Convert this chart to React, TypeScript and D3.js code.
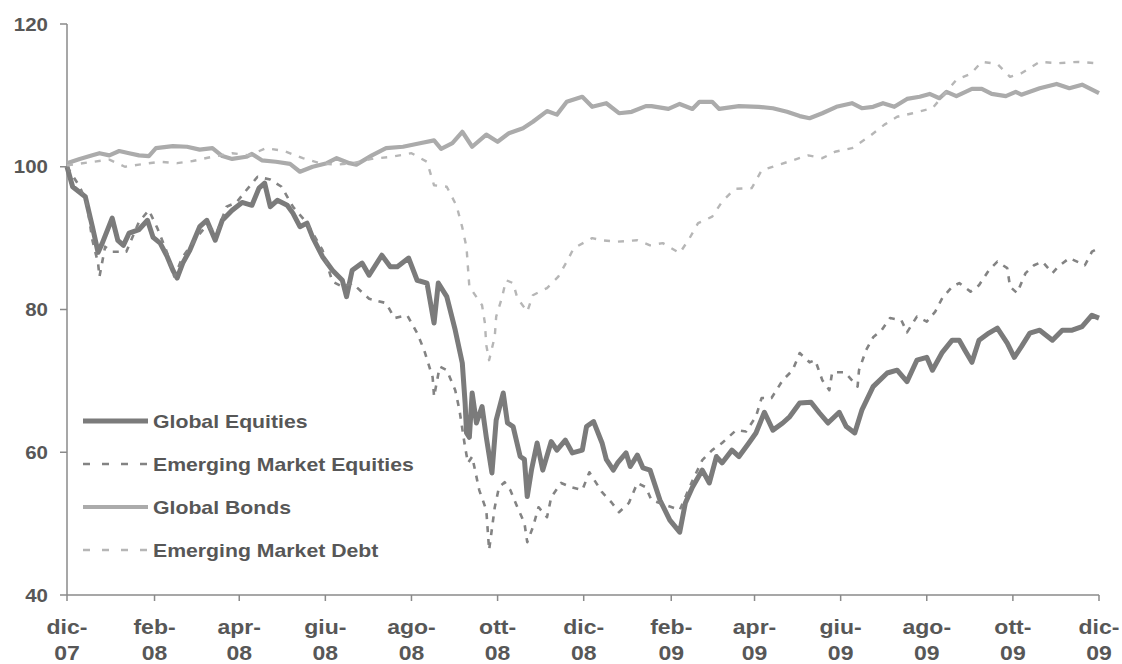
import React from "react";
import * as d3 from "d3";

// ---------- DATA ----------
const globalEquities: [string, number][] = [
  ["2007-12-01", 100.0], ["2007-12-05", 97.2], ["2007-12-14", 95.8], ["2007-12-19", 91.6],
  ["2007-12-23", 88.0], ["2007-12-26", 89.3], ["2008-01-02", 92.8], ["2008-01-06", 89.7],
  ["2008-01-10", 89.0], ["2008-01-14", 90.7], ["2008-01-21", 91.2], ["2008-01-27", 92.5],
  ["2008-01-31", 90.1], ["2008-02-05", 89.3], ["2008-02-10", 87.4], ["2008-02-14", 85.5],
  ["2008-02-17", 84.4], ["2008-02-21", 86.5], ["2008-02-26", 88.3], ["2008-03-04", 91.6],
  ["2008-03-09", 92.5], ["2008-03-15", 89.7], ["2008-03-20", 92.5], ["2008-03-27", 93.9],
  ["2008-04-03", 95.0], ["2008-04-10", 94.6], ["2008-04-15", 97.0], ["2008-04-19", 97.7],
  ["2008-04-23", 94.4], ["2008-04-28", 95.3], ["2008-05-05", 94.6], ["2008-05-09", 93.5],
  ["2008-05-14", 91.6], ["2008-05-19", 92.1], ["2008-05-23", 90.1], ["2008-05-30", 87.4],
  ["2008-06-06", 85.5], ["2008-06-13", 84.1], ["2008-06-16", 81.8], ["2008-06-20", 85.5],
  ["2008-06-27", 86.5], ["2008-07-02", 84.8], ["2008-07-11", 87.6], ["2008-07-17", 86.0],
  ["2008-07-22", 86.0], ["2008-07-30", 87.2], ["2008-08-05", 84.1], ["2008-08-12", 83.7],
  ["2008-08-17", 78.1], ["2008-08-20", 83.7], ["2008-08-26", 81.8], ["2008-09-01", 77.1],
  ["2008-09-06", 72.5], ["2008-09-08", 66.9], ["2008-09-09", 62.7], ["2008-09-11", 62.1],
  ["2008-09-13", 68.3], ["2008-09-16", 64.1], ["2008-09-20", 66.4], ["2008-09-23", 62.1],
  ["2008-09-27", 57.1], ["2008-09-30", 64.5], ["2008-10-05", 68.3], ["2008-10-08", 64.1],
  ["2008-10-12", 63.6], ["2008-10-17", 59.4], ["2008-10-20", 59.0], ["2008-10-22", 53.8],
  ["2008-10-25", 57.5], ["2008-10-29", 61.3], ["2008-11-02", 57.5], ["2008-11-08", 61.5],
  ["2008-11-12", 60.3], ["2008-11-18", 61.7], ["2008-11-23", 59.9], ["2008-11-30", 60.3],
  ["2008-12-03", 63.6], ["2008-12-08", 64.3], ["2008-12-14", 61.3], ["2008-12-17", 59.0],
  ["2008-12-22", 57.5], ["2008-12-25", 58.5], ["2008-12-31", 59.9], ["2009-01-03", 58.0],
  ["2009-01-08", 59.6], ["2009-01-12", 57.8], ["2009-01-17", 57.5], ["2009-01-24", 53.3],
  ["2009-01-31", 50.5], ["2009-02-07", 48.8], ["2009-02-11", 52.9], ["2009-02-16", 55.1],
  ["2009-02-23", 57.5], ["2009-02-28", 55.7], ["2009-03-05", 59.4], ["2009-03-09", 58.5],
  ["2009-03-16", 60.3], ["2009-03-21", 59.4], ["2009-03-28", 61.3], ["2009-04-02", 62.7],
  ["2009-04-08", 65.6], ["2009-04-14", 63.1], ["2009-04-21", 64.1], ["2009-04-26", 65.0],
  ["2009-05-03", 66.9], ["2009-05-11", 67.0], ["2009-05-17", 65.5], ["2009-05-23", 64.1],
  ["2009-05-31", 65.6], ["2009-06-05", 63.6], ["2009-06-11", 62.7], ["2009-06-16", 65.9],
  ["2009-06-24", 69.2], ["2009-07-04", 71.1], ["2009-07-11", 71.5], ["2009-07-18", 69.9],
  ["2009-07-25", 72.9], ["2009-08-01", 73.3], ["2009-08-05", 71.5], ["2009-08-12", 74.0],
  ["2009-08-19", 75.7], ["2009-08-24", 75.7], ["2009-08-28", 74.3], ["2009-09-02", 72.6],
  ["2009-09-07", 75.7], ["2009-09-14", 76.7], ["2009-09-20", 77.4], ["2009-09-27", 75.3],
  ["2009-10-02", 73.3], ["2009-10-07", 74.8], ["2009-10-13", 76.7], ["2009-10-20", 77.1],
  ["2009-10-29", 75.7], ["2009-11-05", 77.1], ["2009-11-12", 77.1], ["2009-11-19", 77.6],
  ["2009-11-26", 79.2], ["2009-12-01", 78.8],
];

const emergingEquities: [string, number][] = [
  ["2007-12-01", 100.0], ["2007-12-10", 97.2], ["2007-12-15", 94.9], ["2007-12-19", 89.7],
  ["2007-12-23", 86.5], ["2007-12-24", 84.6], ["2007-12-28", 88.8], ["2008-01-02", 88.1],
  ["2008-01-12", 88.1], ["2008-01-21", 92.3], ["2008-01-28", 93.9], ["2008-02-03", 91.4],
  ["2008-02-10", 87.9], ["2008-02-15", 84.6], ["2008-02-21", 87.4], ["2008-03-02", 90.1],
  ["2008-03-09", 91.8], ["2008-03-16", 90.7], ["2008-03-23", 94.4], ["2008-03-30", 95.0],
  ["2008-04-06", 96.7], ["2008-04-14", 98.6], ["2008-04-23", 98.2], ["2008-05-01", 97.2],
  ["2008-05-09", 94.4], ["2008-05-19", 92.1], ["2008-05-30", 88.3], ["2008-06-06", 83.9],
  ["2008-06-13", 83.2], ["2008-06-20", 83.7], ["2008-07-02", 81.5], ["2008-07-14", 80.9],
  ["2008-07-20", 78.8], ["2008-07-29", 79.2], ["2008-08-05", 76.7], ["2008-08-10", 74.3],
  ["2008-08-16", 70.5], ["2008-08-17", 67.8], ["2008-08-21", 72.0], ["2008-08-26", 71.5],
  ["2008-09-01", 68.7], ["2008-09-04", 65.9], ["2008-09-08", 60.7], ["2008-09-10", 58.5],
  ["2008-09-13", 59.4], ["2008-09-18", 54.7], ["2008-09-23", 51.9], ["2008-09-24", 49.1],
  ["2008-09-25", 46.3], ["2008-09-29", 52.3], ["2008-10-02", 55.1], ["2008-10-06", 55.8],
  ["2008-10-10", 54.7], ["2008-10-15", 52.3], ["2008-10-20", 50.1], ["2008-10-22", 47.4],
  ["2008-10-26", 49.5], ["2008-10-30", 52.3], ["2008-11-05", 50.9], ["2008-11-08", 53.7],
  ["2008-11-15", 55.7], ["2008-11-22", 55.1], ["2008-11-30", 54.7], ["2008-12-05", 57.2],
  ["2008-12-14", 54.4], ["2008-12-21", 52.9], ["2008-12-26", 51.6], ["2009-01-02", 52.9],
  ["2009-01-08", 55.7], ["2009-01-14", 55.1], ["2009-01-18", 53.3], ["2009-01-28", 52.6],
  ["2009-02-07", 51.9], ["2009-02-16", 56.0], ["2009-02-23", 58.9], ["2009-03-02", 60.3],
  ["2009-03-09", 61.3], ["2009-03-19", 63.1], ["2009-03-26", 62.9], ["2009-04-02", 65.0],
  ["2009-04-06", 67.6], ["2009-04-13", 67.6], ["2009-04-21", 70.1], ["2009-04-28", 71.5],
  ["2009-05-03", 73.9], ["2009-05-10", 72.6], ["2009-05-14", 72.9], ["2009-05-19", 70.1],
  ["2009-05-24", 68.7], ["2009-05-26", 71.2], ["2009-06-04", 71.2], ["2009-06-13", 69.2],
  ["2009-06-14", 71.5], ["2009-06-19", 74.3], ["2009-06-24", 76.1], ["2009-06-30", 77.1],
  ["2009-07-06", 78.8], ["2009-07-14", 78.5], ["2009-07-18", 76.8], ["2009-07-25", 79.0],
  ["2009-08-01", 78.3], ["2009-08-07", 79.7], ["2009-08-12", 81.6], ["2009-08-19", 83.2],
  ["2009-08-24", 83.7], ["2009-09-01", 82.5], ["2009-09-07", 83.4], ["2009-09-14", 85.5],
  ["2009-09-20", 86.7], ["2009-09-27", 85.8], ["2009-09-29", 83.2], ["2009-10-04", 82.3],
  ["2009-10-10", 85.1], ["2009-10-16", 86.2], ["2009-10-22", 86.7], ["2009-10-29", 85.1],
  ["2009-11-02", 86.0], ["2009-11-10", 87.2], ["2009-11-21", 86.2], ["2009-11-26", 88.1],
  ["2009-12-01", 88.6],
];

const globalBonds: [string, number][] = [
  ["2007-12-01", 100.5], ["2007-12-10", 101.1], ["2007-12-19", 101.6], ["2007-12-24", 101.9],
  ["2007-12-31", 101.6], ["2008-01-07", 102.2], ["2008-01-14", 101.9], ["2008-01-21", 101.6],
  ["2008-01-28", 101.5], ["2008-02-02", 102.6], ["2008-02-14", 102.9], ["2008-02-24", 102.8],
  ["2008-03-04", 102.4], ["2008-03-13", 102.6], ["2008-03-20", 101.5], ["2008-03-27", 101.1],
  ["2008-04-06", 101.4], ["2008-04-10", 101.8], ["2008-04-17", 100.9], ["2008-04-27", 100.7],
  ["2008-05-07", 100.4], ["2008-05-14", 99.3], ["2008-05-23", 100.0], ["2008-06-02", 100.5],
  ["2008-06-09", 101.2], ["2008-06-18", 100.5], ["2008-06-23", 100.3], ["2008-07-04", 101.6],
  ["2008-07-14", 102.6], ["2008-07-26", 102.8], ["2008-08-07", 103.3], ["2008-08-17", 103.7],
  ["2008-08-22", 102.5], ["2008-08-30", 103.3], ["2008-09-06", 104.9], ["2008-09-13", 102.8],
  ["2008-09-23", 104.5], ["2008-10-01", 103.5], ["2008-10-09", 104.7], ["2008-10-19", 105.4],
  ["2008-10-26", 106.3], ["2008-11-05", 107.8], ["2008-11-12", 107.3], ["2008-11-19", 109.1],
  ["2008-11-30", 109.8], ["2008-12-07", 108.4], ["2008-12-17", 108.9], ["2008-12-26", 107.5],
  ["2009-01-04", 107.7], ["2009-01-14", 108.5], ["2009-01-18", 108.5], ["2009-01-30", 108.1],
  ["2009-02-07", 108.8], ["2009-02-16", 108.1], ["2009-02-21", 109.1], ["2009-03-02", 109.1],
  ["2009-03-07", 108.1], ["2009-03-21", 108.5], ["2009-04-04", 108.4], ["2009-04-14", 108.2],
  ["2009-04-24", 107.7], ["2009-05-03", 107.1], ["2009-05-10", 106.8], ["2009-05-19", 107.5],
  ["2009-05-29", 108.4], ["2009-06-09", 108.9], ["2009-06-16", 108.2], ["2009-06-24", 108.4],
  ["2009-07-01", 108.9], ["2009-07-09", 108.4], ["2009-07-18", 109.5], ["2009-07-27", 109.8],
  ["2009-08-03", 110.2], ["2009-08-10", 109.6], ["2009-08-15", 110.5], ["2009-08-22", 109.9],
  ["2009-09-02", 110.9], ["2009-09-09", 110.9], ["2009-09-16", 110.2], ["2009-09-26", 109.9],
  ["2009-10-03", 110.5], ["2009-10-07", 110.1], ["2009-10-20", 111.0], ["2009-11-01", 111.6],
  ["2009-11-10", 111.0], ["2009-11-19", 111.5], ["2009-12-01", 110.3],
];

const emergingDebt: [string, number][] = [
  ["2007-12-01", 100.2], ["2007-12-31", 101.0], ["2008-01-11", 100.0], ["2008-01-21", 100.3],
  ["2008-02-05", 100.7], ["2008-02-17", 100.5], ["2008-02-28", 100.8], ["2008-03-13", 101.4],
  ["2008-03-27", 101.9], ["2008-04-08", 101.6], ["2008-04-20", 102.6], ["2008-05-03", 102.2],
  ["2008-05-16", 101.2], ["2008-05-28", 100.5], ["2008-06-09", 100.3], ["2008-06-20", 100.5],
  ["2008-07-04", 101.1], ["2008-07-18", 101.4], ["2008-08-01", 101.9], ["2008-08-12", 100.7],
  ["2008-08-17", 97.4], ["2008-08-26", 97.2], ["2008-09-02", 94.5], ["2008-09-06", 91.5],
  ["2008-09-09", 88.7], ["2008-09-10", 85.9], ["2008-09-11", 83.2], ["2008-09-20", 80.6],
  ["2008-09-22", 78.1], ["2008-09-23", 75.0], ["2008-09-25", 72.9], ["2008-09-29", 76.2],
  ["2008-09-30", 79.0], ["2008-10-04", 81.6], ["2008-10-07", 84.1], ["2008-10-12", 83.7],
  ["2008-10-15", 81.6], ["2008-10-22", 79.7], ["2008-10-26", 82.0], ["2008-11-05", 83.0],
  ["2008-11-13", 84.6], ["2008-11-19", 86.7], ["2008-11-24", 88.6], ["2008-12-07", 90.0],
  ["2008-12-14", 89.7], ["2008-12-25", 89.5], ["2009-01-08", 89.7], ["2009-01-17", 89.0],
  ["2009-01-26", 89.3], ["2009-02-07", 87.9], ["2009-02-14", 90.0], ["2009-02-20", 92.1],
  ["2009-03-02", 93.0], ["2009-03-09", 95.1], ["2009-03-18", 96.9], ["2009-03-30", 97.0],
  ["2009-04-06", 99.5], ["2009-04-17", 100.2], ["2009-04-28", 100.9], ["2009-05-09", 101.6],
  ["2009-05-19", 101.2], ["2009-05-28", 102.1], ["2009-06-09", 102.6], ["2009-06-21", 104.2],
  ["2009-07-02", 105.9], ["2009-07-11", 107.0], ["2009-07-22", 107.5], ["2009-08-05", 108.2],
  ["2009-08-14", 110.3], ["2009-08-22", 112.2], ["2009-09-01", 113.0], ["2009-09-09", 114.7],
  ["2009-09-20", 114.4], ["2009-09-29", 112.6], ["2009-10-07", 113.1], ["2009-10-20", 114.7],
  ["2009-11-02", 114.5], ["2009-11-16", 114.7], ["2009-11-29", 114.5], ["2009-12-01", 114.4],
];

const seriesNames = [
  "Global Equities",
  "Emerging Market Equities",
  "Global Bonds",
  "Emerging Market Debt",
];

const yTicks = [40, 60, 80, 100, 120];

const xTickDates = [
  "2007-12-01", "2008-02-01", "2008-04-01", "2008-06-01", "2008-08-01", "2008-10-01",
  "2008-12-01", "2009-02-01", "2009-04-01", "2009-06-01", "2009-08-01", "2009-10-01",
  "2009-12-01",
];
const xTickMonths = ["dic-", "feb-", "apr-", "giu-", "ago-", "ott-", "dic-", "feb-", "apr-", "giu-", "ago-", "ott-", "dic-"];
const xTickYears = ["07", "08", "08", "08", "08", "08", "08", "09", "09", "09", "09", "09", "09"];

// ---------- STYLES ----------
const styles = [
  { color: "#7b7b7b", width: 5, dash: "" },
  { color: "#838383", width: 2.6, dash: "6,7" },
  { color: "#ababab", width: 4.2, dash: "" },
  { color: "#b6b6b6", width: 2.4, dash: "6,8" },
];

const W = 1122;
const H = 664;
const left = 67;
const right = 1099;
const top = 24;
const bottom = 595;
const textColor = "#575757";
const axisColor = "#8a8a8a";
const FONT = "'Liberation Sans', Arial, Helvetica, sans-serif";

export default function App() {
  const parse = d3.utcParse("%Y-%m-%d");
  const x = d3
    .scaleUtc()
    .domain([parse("2007-12-01")!, parse("2009-12-01")!])
    .range([left, right]);
  const y = d3.scaleLinear().domain([40, 120]).range([bottom, top]);

  const line = d3
    .line<[string, number]>()
    .x((d) => x(parse(d[0])!))
    .y((d) => y(d[1]));

  const allSeries = [globalEquities, emergingEquities, globalBonds, emergingDebt];

  const legendRows = [421, 464, 507, 550];

  return (
    <svg
      width={W}
      height={H}
      style={{ position: "absolute", left: 0, top: 0, background: "#fff", display: "block" }}
      fontFamily={FONT}
    >
      <rect x={0} y={0} width={W} height={H} fill="#fff" />

      {/* axes */}
      <line x1={left} x2={left} y1={top} y2={bottom} stroke={axisColor} strokeWidth={1.5} />
      <line x1={left} x2={right} y1={bottom} y2={bottom} stroke={axisColor} strokeWidth={1.5} />

      {yTicks.map((t) => (
        <g key={"y" + t}>
          <line x1={left - 7} x2={left} y1={y(t)} y2={y(t)} stroke={axisColor} strokeWidth={1.5} />
          <text
            transform={`translate(${left - 19},${y(t) + 6.5}) scale(1.17,1)`}
            textAnchor="end"
            fontSize={17.5}
            fontWeight="bold"
            fill={textColor}
          >
            {t}
          </text>
        </g>
      ))}

      {xTickDates.map((d, i) => {
        const px = x(parse(d)!);
        return (
          <g key={"x" + i}>
            <line x1={px} x2={px} y1={bottom} y2={bottom + 6} stroke={axisColor} strokeWidth={1.5} />
            <text
              transform={`translate(${px},${634}) scale(1.15,1)`}
              textAnchor="middle"
              fontSize={20}
              fontWeight="bold"
              fill={textColor}
            >
              {xTickMonths[i]}
            </text>
            <text
              transform={`translate(${px},${660}) scale(1.15,1)`}
              textAnchor="middle"
              fontSize={20}
              fontWeight="bold"
              fill={textColor}
            >
              {xTickYears[i]}
            </text>
          </g>
        );
      })}

      {/* series */}
      {allSeries.map((s, i) => (
        <path
          key={"s" + i}
          d={line(s) || ""}
          fill="none"
          stroke={styles[i].color}
          strokeWidth={styles[i].width}
          strokeDasharray={styles[i].dash || undefined}
          strokeLinejoin="round"
        />
      ))}

      {/* legend */}
      {seriesNames.map((name, i) => (
        <g key={"l" + i}>
          <line
            x1={83}
            x2={148}
            y1={legendRows[i]}
            y2={legendRows[i]}
            stroke={styles[i].color}
            strokeWidth={styles[i].width}
            strokeDasharray={styles[i].dash ? "7,12" : undefined}
          />
          <text
            transform={`translate(153,${legendRows[i] + 6.5}) scale(1.2,1)`}
            fontSize={17.7}
            fontWeight="bold"
            fill={textColor}
          >
            {name}
          </text>
        </g>
      ))}
    </svg>
  );
}
